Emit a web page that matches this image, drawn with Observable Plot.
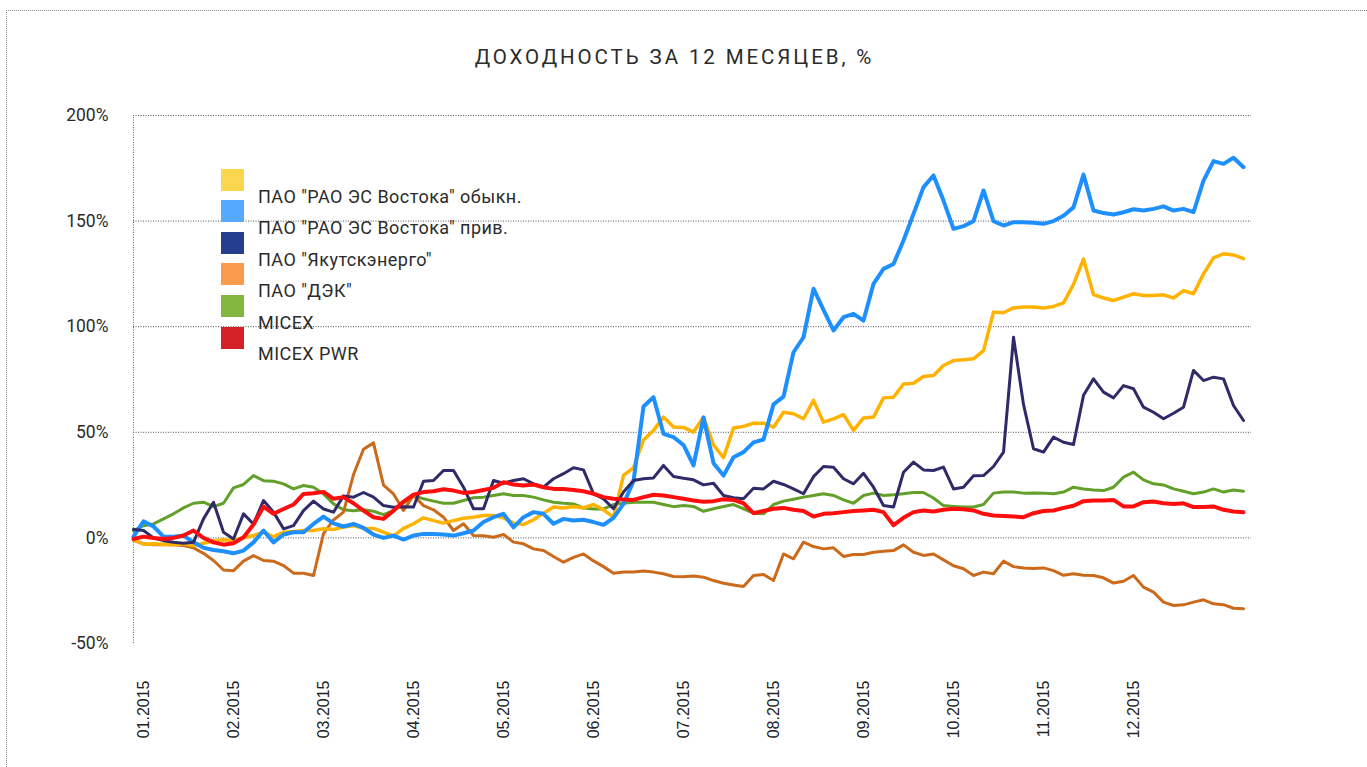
<!DOCTYPE html>
<html>
<head>
<meta charset="utf-8">
<script src="https://cdn.jsdelivr.net/npm/d3@7"></script>
<script src="https://cdn.jsdelivr.net/npm/@observablehq/plot@0.6"></script>
<style>
  body { margin: 0; background: #fff; }
  #wrap { position: relative; width: 1367px; height: 767px; overflow: hidden; background: #fff; }
  #frame { position: absolute; left: 6px; top: 10px; right: -2px; bottom: -2px; border-top: 1px dotted #8a8a8a; border-left: 1px dotted #8a8a8a; }
  #chart { position: absolute; left: 0; top: 0; }
  #title { position: absolute; left: 0; top: 45px; width: 1349px; text-align: center; font-family: Roboto, sans-serif; font-size: 20.5px; line-height: 24px; letter-spacing: 2.9px; color: #2b2b2b; }
  .lg-sw { position: absolute; width: 23px; height: 22px; }
  .lg-tx { position: absolute; font-family: Roboto, sans-serif; font-size: 18px; line-height: 20px; letter-spacing: 0.45px; color: #2b2b2b; white-space: nowrap; }
</style>
</head>
<body>
<div id="wrap">
  <div id="frame"></div>
  <div id="chart"></div>
  <div id="title">ДОХОДНОСТЬ ЗА 12 МЕСЯЦЕВ, %</div>
  <div id="legend"></div>
</div>
<script>
// Sample index (≈ every 2 trading days across 2015)
const monthTicks = [1, 10, 19, 28, 37, 46, 55, 64, 73, 82, 91, 100];
const monthLabels = ["01.2015","02.2015","03.2015","04.2015","05.2015","06.2015","07.2015","08.2015","09.2015","10.2015","11.2015","12.2015"];
const yTicks = [-50, 0, 50, 100, 150, 200];
const gridValues = [0, 50, 100, 150, 200];

const seriesNames = ['ПАО "РАО ЭС Востока" обыкн.', 'ПАО "РАО ЭС Востока" прив.', 'ПАО "Якутскэнерго"', 'ПАО "ДЭК"', 'MICEX', 'MICEX PWR'];
const legendColors = ["#fcd64f", "#55aaff", "#253d8e", "#f99a4c", "#83b840", "#d42128"];

const raoCommon = [-1,-3.0,-2.8,-3.0,-3.2,-2.8,-3.6,-2.5,-1.5,-0.9,
  -1.2,0,1.1,2.7,0.5,2.7,3.0,3.5,3.5,4.3,
  4.0,5.1,5.8,4.5,4.5,2.7,1.0,4.5,6.7,9.5,
  8.2,7.0,8.2,9.3,9.8,10.6,10.6,9.5,7.0,6.3,
  8.6,11.7,14.6,14.2,14.9,14.2,15.8,13.3,9.8,29.6,
  33.2,46.4,50.9,57.2,52.5,52.3,50.1,57.2,44.0,38.0,
  52.0,52.8,54.3,54.3,52.4,59.5,58.8,56.4,65.1,54.8,
  56.4,58.4,50.9,56.8,57.2,66.3,66.6,72.9,73.2,76.4,
  76.9,81.6,84.0,84.3,84.8,88.7,106.9,106.6,108.9,109.3,
  109.3,108.8,109.6,111.3,120.0,132.0,115.2,113.6,112.4,114.0,
  115.6,114.8,114.8,115.1,113.6,117.1,115.6,125.0,132.6,134.5,
  134.0,132.2];

const raoPref = [0.6,7.9,5.4,0.6,0.6,1.1,-2.1,-4.7,-5.7,-6.3,
  -7.3,-6.0,-2.1,3.5,-2.1,1.6,2.7,2.7,6.6,10.1,
  6.9,5.4,6.6,4.7,1.6,0,1.1,-0.8,1.1,1.9,
  1.9,1.6,1.1,2.2,3.5,7.5,9.8,11.4,5.0,9.8,
  12.2,11.4,6.7,9.0,8.2,8.6,7.5,6.2,9.5,16.1,
  26.8,62.2,66.6,49.3,47.7,44.0,34.3,57.0,35.4,29.5,
  38.2,40.6,45.2,46.6,63.2,66.9,87.9,95.0,118.0,108.0,
  98.2,104.5,106.1,102.9,120.3,127.4,129.7,140.8,153.4,166.1,
  171.6,159.7,146.3,147.6,150.0,164.5,150.0,147.9,149.5,149.5,
  149.2,148.7,150.0,152.5,156.5,172.0,155.0,153.8,153.1,154.2,
  155.6,155.0,155.8,157.0,155.0,155.8,154.2,169.2,178.4,177.1,
  180.0,175.5];

const yakutsk = [4,3.5,0,-1.3,-2.1,-2.5,-2.1,9.0,16.9,2.7,
  -0.5,11.4,6.6,17.7,12.2,4.3,5.8,12.9,17.4,13.7,
  12.2,19.9,19.3,21.5,19.3,15.3,14.5,14.7,14.6,26.8,
  27.2,31.9,31.9,24.0,13.8,13.8,27.2,25.9,27.2,28.0,
  25.6,24.0,28.0,30.4,33.2,32.2,20.9,18.5,13.8,21.7,
  27.2,28.0,28.4,34.3,29.1,28.2,27.5,25.1,25.9,20.1,
  19.0,18.5,23.5,23.2,26.8,25.3,23.2,20.9,29.0,33.8,
  33.5,28.0,25.6,30.6,24.0,15.3,14.6,31.1,35.9,32.2,
  31.9,33.5,23.2,24.0,29.4,29.5,33.8,40.6,95.0,63.2,
  42.2,40.6,47.7,45.3,44.2,67.5,75.3,69.0,66.3,72.1,
  70.6,61.9,59.5,56.4,59.0,61.9,79.3,74.5,76.1,75.3,
  62.7,55.6];

const dek = [-1,-2.8,-3.3,-3.3,-3.2,-3.6,-4.7,-7.3,-10.7,-15.2,
  -15.5,-11.0,-8.4,-10.7,-11.0,-13.1,-16.7,-16.7,-17.8,2.0,
  8.5,12.2,30.0,42.0,45.0,25.0,20.8,13.0,20.1,15.3,
  13.3,9.8,3.5,6.7,1.1,1.0,0.3,1.6,-2.0,-2.8,
  -5.2,-6.0,-8.8,-11.5,-9.2,-7.6,-10.9,-13.6,-16.7,-16.2,
  -16.2,-15.7,-16.2,-17.0,-18.3,-18.4,-18.0,-18.6,-20.2,-21.5,
  -22.3,-23.0,-17.8,-17.3,-20.2,-7.6,-9.9,-2.0,-4.1,-5.2,
  -4.7,-8.8,-7.9,-7.9,-6.8,-6.3,-6.0,-3.3,-6.8,-8.3,
  -7.6,-10.4,-13.2,-14.6,-17.8,-16.2,-17.0,-11.0,-13.6,-14.2,
  -14.5,-14.2,-15.5,-17.7,-17.0,-17.7,-17.8,-18.9,-21.4,-20.5,
  -17.8,-23.3,-25.7,-30.4,-32.0,-31.7,-30.4,-29.3,-31.2,-31.6,
  -33.3,-33.6];

const micex = [3.5,5.8,6.6,9.0,11.4,14.2,16.4,16.9,14.8,16.4,
  23.7,25.3,29.5,27.1,26.8,25.6,23.2,24.8,24.0,20.8,
  16.1,13.3,12.9,13.3,12.6,11.0,12.9,16.5,20.1,18.5,
  17.4,16.4,16.4,17.7,19.0,19.3,20.1,20.9,20.1,20.1,
  19.3,18.0,16.9,16.4,16.1,14.2,13.7,13.7,15.8,16.4,
  16.9,16.9,16.9,15.8,14.8,15.3,14.9,12.6,13.8,14.9,
  15.8,13.8,11.7,11.4,15.8,17.4,18.3,19.3,20.1,20.9,
  20.1,18.0,16.4,20.1,21.2,20.1,20.4,20.9,21.5,21.5,
  18.9,15.3,14.9,14.6,14.6,15.8,21.2,21.7,21.7,21.2,
  21.3,21.2,20.9,21.7,24.0,23.2,22.7,22.4,24.0,28.8,
  31.1,27.5,25.6,25.1,23.2,22.1,20.9,21.7,23.2,21.7,
  22.7,22.1];

const micexPwr = [-0.5,0.6,0,-0.5,0,1.1,3.5,0,-2.1,-3.2,
  -2.5,0.3,6.3,14.8,11.4,13.7,15.8,20.8,21.1,21.8,
  18.5,19.3,16.4,12.9,9.8,9.0,12.9,17.2,20.5,21.7,
  22.1,23.0,22.4,21.3,21.7,22.7,23.7,26.4,25.3,24.8,
  25.3,24.0,23.2,23.2,22.7,22.1,20.9,19.3,18.5,18.2,
  18.0,19.3,20.4,20.1,19.3,18.5,17.7,17.1,17.4,18.3,
  18.0,16.4,11.7,12.7,13.8,14.2,13.3,12.7,10.1,11.4,
  11.7,12.2,12.7,13.0,13.3,12.2,6.0,9.5,12.2,13.0,
  12.5,13.3,13.8,13.6,13.0,11.4,10.6,10.4,10.1,9.8,
  11.7,12.7,13.0,14.2,15.2,17.4,17.7,17.7,18.0,14.9,
  14.9,16.9,17.2,16.4,16.1,16.4,14.6,14.6,14.9,13.3,
  12.5,12.2];

const toRows = (arr) => arr.map((v, i) => ({idx: i, value: v}));

// drawing order and line styles
const lineSpecs = [
  {data: micex, stroke: "#62a02a", width: 3},
  {data: dek, stroke: "#cc6a1c", width: 3},
  {data: raoCommon, stroke: "#ffb300", width: 3.5},
  {data: raoPref, stroke: "#1e8fff", width: 4},
  {data: yakutsk, stroke: "#2e2b68", width: 3},
  {data: micexPwr, stroke: "#ff0d0d", width: 4}
];

const chart = Plot.plot({
  width: 1367,
  height: 767,
  marginLeft: 133,
  marginRight: 116,
  marginTop: 115,
  marginBottom: 124,
  style: {background: "transparent", overflow: "visible"},
  x: {domain: [0, 111.8]},
  y: {domain: [-50, 200]},
  marks: [
    Plot.ruleY(gridValues, {stroke: "#555", strokeWidth: 1, strokeDasharray: "1,1.5"}),
    Plot.ruleX([0], {y1: -50, y2: 200, stroke: "#666", strokeWidth: 1, strokeDasharray: "1,1.5"}),
    ...lineSpecs.map(s => Plot.line(toRows(s.data), {
      x: "idx", y: "value", stroke: s.stroke, strokeWidth: s.width,
      strokeLinejoin: "round", strokeLinecap: "round"
    })),
    Plot.axisY({
      ticks: yTicks, tickFormat: d => d + "%", tickSize: 0, tickPadding: 25,
      fontSize: 17.5, fontFamily: "Roboto", fill: "#2b2b2b", label: null
    }),
    Plot.axisX({
      ticks: monthTicks, tickFormat: d => monthLabels[monthTicks.indexOf(d)],
      tickSize: 0, tickPadding: 37, tickRotate: -90,
      fontSize: 16, fontFamily: "Liberation Sans, Arial", fill: "#222", label: null
    })
  ]
});
document.getElementById("chart").appendChild(chart);

// legend
const lg = document.getElementById("legend");
seriesNames.forEach((name, k) => {
  const sw = document.createElement("div");
  sw.className = "lg-sw";
  sw.style.left = "221px";
  sw.style.top = (168.5 + 31.6 * k) + "px";
  sw.style.background = legendColors[k];
  lg.appendChild(sw);
  const tx = document.createElement("div");
  tx.className = "lg-tx";
  tx.style.left = "258px";
  tx.style.top = (187 + 31.4 * k) + "px";
  tx.textContent = name;
  lg.appendChild(tx);
});
</script>
</body>
</html>
